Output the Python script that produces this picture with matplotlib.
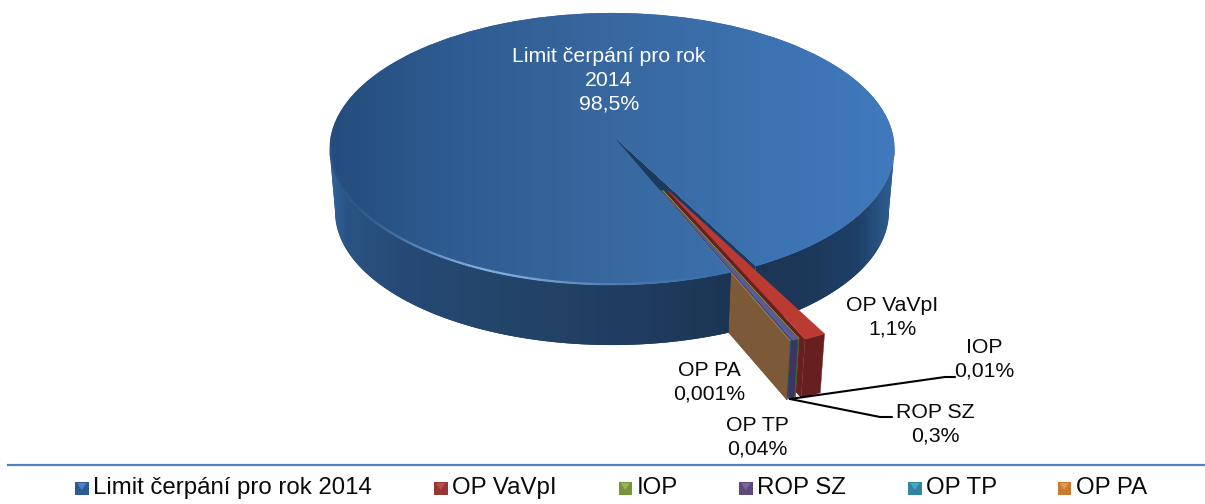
import numpy as np
import matplotlib
matplotlib.use("Agg")
import matplotlib.pyplot as plt
from matplotlib.transforms import Transform
from matplotlib.colors import LinearSegmentedColormap
from matplotlib.collections import LineCollection
from matplotlib.patches import Polygon, Rectangle

plt.rcParams['font.family'] = ['Liberation Sans', 'DejaVu Sans']

# ---- data ----
categories = ["Limit čerpání pro rok 2014", "OP VaVpI", "IOP", "ROP SZ", "OP TP", "OP PA"]
shares = [98.5, 1.1, 0.01, 0.3, 0.04, 0.001]
share_labels = ["98,5%", "1,1%", "0,01%", "0,3%", "0,04%", "0,001%"]
explode = [0, 0.44, 0.43, 0.43, 0.43, 0.43]
start_angle = -67.5

# ---- style ----
top_colors = ["#37679f", "#bb3a32", "#7f9a40", "#5d5a9c", "#2f7f9c", "#b8783a"]
rim_colors = ["#1f3f66", "#681f1f", "#4f6128", "#3a3565", "#205868", "#7a4c20"]
wall_colors = ["#1b3a60", "#681f1f", "#4f6128", "#3a3565", "#205868", "#7c5a38"]
swatch_colors = ["#2c5a92", "#953735", "#77933c", "#5f497a", "#31859c", "#c87a30"]
swatch_lights = ["#4f82c0", "#bf4a47", "#98b654", "#7f62a4", "#4aa8c2", "#e4964a"]
label_pos = [(609, 80), (892, 317), (984, 359), (935, 424), (757, 437.5), (709, 382)]
legend_swatch_x = [75, 434, 618.5, 739, 908, 1057.5]

CX, CY, A, B, K = 612.0, 135.0, 281.0, 134.6, 0.103
DEPTH, SHRINK = 63.0, 0.98


class Plane(Transform):
    """Perspective view of the pie's unit disk, at a given depth below the top."""
    input_dims = output_dims = 2

    def __init__(self, drop=0.0, shrink=1.0):
        super().__init__()
        self.drop, self.shrink = drop, shrink

    def transform_non_affine(self, pts):
        pts = np.asarray(pts, float)
        u, v = pts[:, 0], -pts[:, 1]
        w = 1 - K * v
        return np.column_stack([CX + self.shrink * A * u / w,
                                CY + self.drop + self.shrink * B * v / w])


top_plane = Plane()
bot_plane = Plane(DEPTH, SHRINK)

fig = plt.figure(figsize=(12.05, 5.04), dpi=100)
ax = fig.add_axes([0, 0, 1, 1])
wedges, _ = ax.pie(shares, explode=explode, startangle=start_angle, counterclock=False,
                   radius=1, center=(0, 0), colors=top_colors, frame=False,
                   wedgeprops=dict(linewidth=0))
ax.set_aspect('auto')


def disk_pts(center, angles):
    t = np.radians(angles)
    return np.column_stack([center[0] + np.cos(t), center[1] + np.sin(t)])


def gradient_fill(verts, stops, z):
    poly = Polygon(verts, closed=True, facecolor=stops[len(stops) // 2][1], edgecolor='none', zorder=z)
    ax.add_patch(poly)
    cmap = LinearSegmentedColormap.from_list("g", [((x - 330) / 565, c) for x, c in stops])
    im = ax.imshow(np.linspace(0, 1, 565)[None, :], extent=(330, 895, 504, 0), cmap=cmap,
                   aspect='auto', zorder=z + 0.01, interpolation='bilinear')
    im.set_clip_path(poly)


def band_verts(center, a0, a1, n=120):
    pts = disk_pts(center, np.linspace(a0, a1, n))
    return np.vstack([top_plane.transform(pts), bot_plane.transform(pts)[::-1]])


band_stops = [(330, "#30639c"), (345, "#2a5485"), (400, "#264a75"), (520, "#234468"),
              (640, "#203c60"), (730, "#1c3554"), (800, "#1c3758"), (860, "#1f4068"),
              (885, "#2a5686"), (895, "#2f5f96")]
top_stops = [(330, "#254c7c"), (450, "#2e5c92"), (612, "#38689f"), (760, "#3c72b0"),
             (895, "#4079bd")]

main = wedges[0]
main_lo, main_hi = main.theta1, main.theta2      # hi: left edge of the gap, lo: right edge

# body right of the gap, the visible cut face, then the exploded slices
right_edge = main_lo + 360
gradient_fill(band_verts(main.center, right_edge, -6), band_stops, 1)
edge_pts = np.vstack([main.center, disk_pts(main.center, [right_edge])])
ax.add_patch(Polygon(np.vstack([top_plane.transform(edge_pts), bot_plane.transform(edge_pts)[::-1]]),
                     facecolor=wall_colors[0], edgecolor='none', zorder=2))

z = 3
for i, w in enumerate(wedges[1:], start=1):
    a0, a1 = w.theta1, w.theta2
    ax.add_patch(Polygon(band_verts(w.center, a0, a1, 12), facecolor=rim_colors[i],
                         edgecolor=rim_colors[i], linewidth=0.3, zorder=z))
    e = np.vstack([w.center, disk_pts(w.center, [a0])])
    ax.add_patch(Polygon(np.vstack([top_plane.transform(e), bot_plane.transform(e)[::-1]]),
                         facecolor=wall_colors[i], edgecolor='none', zorder=z + 0.1))
    w.set_transform(top_plane + ax.transData)
    w.set_zorder(z + 0.2)
    w.set_edgecolor(top_colors[i])
    w.set_linewidth(0.3)
    z += 1

# body left of the gap and the large top face
gradient_fill(band_verts(main.center, main_hi, -174), band_stops, 20)
main.set_transform(top_plane + ax.transData)
main.set_zorder(21)
top_im_cmap = LinearSegmentedColormap.from_list("t", [((x - 330) / 565, c) for x, c in top_stops])
im = ax.imshow(np.linspace(0, 1, 565)[None, :], extent=(330, 895, 504, 0), cmap=top_im_cmap,
               aspect='auto', zorder=21.1, interpolation='bilinear')
im.set_clip_path(main)

# soft highlight along the front-left bevel
arc_deg = np.linspace(-175, -72, 160)
arc = top_plane.transform(disk_pts((0, 0), arc_deg) * 0.995)
segs = np.stack([arc[:-1], arc[1:]], axis=1)
peak = np.exp(-((arc_deg[:-1] + 113) / 20) ** 2)
rgba = np.zeros((len(segs), 4))
rgba[:, :3] = matplotlib.colors.to_rgb("#8fbdea")
rgba[:, 3] = 0.06 + 0.8 * peak
ax.add_collection(LineCollection(segs, colors=rgba, linewidths=1.6, zorder=22))

# leader lines
ax.plot([790, 945, 955], [399, 377, 377], color='black', lw=1.5, zorder=23, solid_capstyle='round')
ax.plot([790, 880, 892], [399, 417, 417], color='black', lw=1.5, zorder=23, solid_capstyle='round')

# data labels
for i, (name, lab, (x, y)) in enumerate(zip(categories, share_labels, label_pos)):
    txt = "Limit čerpání pro rok\n2014" if i == 0 else name
    ax.text(x, y, f"{txt}\n{lab}", ha='center', va='center', fontsize=15.3,
            linespacing=1.33, color='white' if i == 0 else '#0a0a0a', zorder=25)

# separator
ax.plot([8, 1205], [464.7, 464.7], color='#4f81bd', lw=1.6, zorder=5)

# legend
for x, name, c, l in zip(legend_swatch_x, categories, swatch_colors, swatch_lights):
    ax.add_patch(Rectangle((x, 481.5), 13.5, 13.5, facecolor=c, edgecolor='none', zorder=5))
    ax.add_patch(Polygon([(x + 2, 483), (x + 11.5, 483), (x + 6.75, 490)], facecolor=l,
                         edgecolor='none', zorder=6))
    ax.text(x + 18, 488, name, ha='left', va='center', fontsize=17.3, color='#0a0a0a', zorder=6)

ax.set_xlim(0, 1205)
ax.set_ylim(504, 0)
ax.axis('off')
fig.savefig("out.png", dpi=100, facecolor='white')
